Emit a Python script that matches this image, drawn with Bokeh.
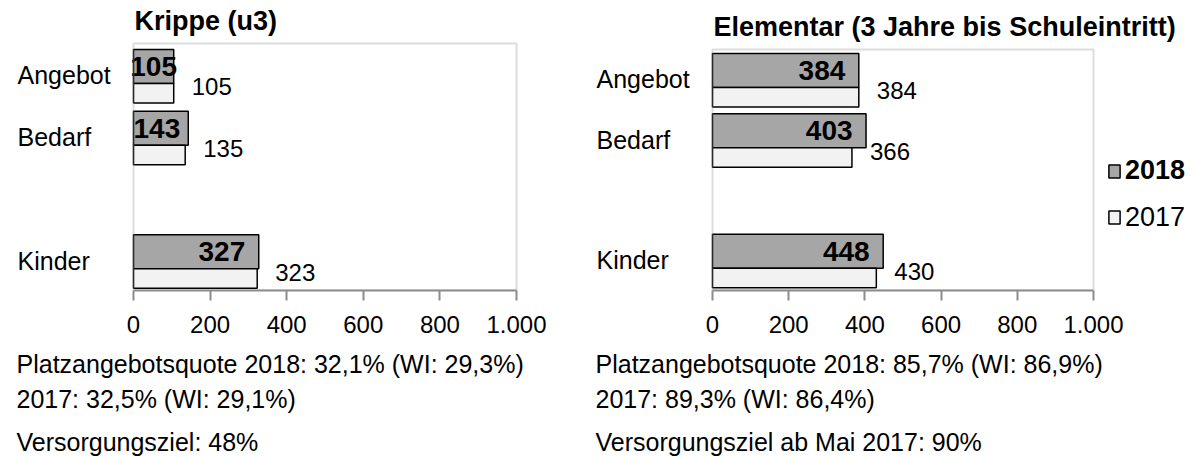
from bokeh.plotting import figure
from bokeh.models import Range1d, FixedTicker, Legend, LegendItem, BoxAnnotation
from bokeh.layouts import row, column
from bokeh.core.properties import value
from bokeh.embed import file_html
from bokeh.resources import INLINE

# ---------------- data ----------------
categories = ["Angebot", "Bedarf", "Kinder"]
krippe_2018 = [105, 143, 327]
krippe_2017 = [105, 135, 323]
elementar_2018 = [384, 403, 448]
elementar_2017 = [384, 366, 430]
x_ticks = [0, 200, 400, 600, 800, 1000]
x_tick_labels = ["0", "200", "400", "600", "800", "1.000"]
years = ["2018", "2017"]
titles = ["Krippe (u3)", "Elementar (3 Jahre bis Schuleintritt)"]
krippe_notes = ["Platzangebotsquote 2018: 32,1% (WI: 29,3%)",
                "2017: 32,5% (WI: 29,1%)",
                "Versorgungsziel: 48%"]
elementar_notes = ["Platzangebotsquote 2018: 85,7% (WI: 86,9%)",
                   "2017: 89,3% (WI: 86,4%)",
                   "Versorgungsziel ab Mai 2017: 90%"]

# ---------------- style / layout (page pixels) ----------------
FONT = "Liberation Sans"
C18 = "#a6a6a6"
C17 = "#f2f2f2"
FRAME = "#8c8c8c"
X_MAX = 1000
N_SLOTS = 4
SLOT_OF = [0, 1, 3]          # an empty slot between Bedarf and Kinder
X0, Y0 = 0, 0                # where the layout starts on the page
SPLIT = 590
RIGHT_END = 1190
BOX_BOTTOM = 290
MAIN_BOTTOM = 340
CANVAS_BOTTOM = 457
H18 = 34.0
H17 = 19.5
NOTE_BASES = [373, 408, 451]
BASE_FIX = 0.37              # em shift so that the text baseline lands on target


def fix(py, size):
    return py - BASE_FIX * size


def base_fig(w, h, xr, yr, bottom=0):
    p = figure(frame_width=w, frame_height=h, min_border_left=0,
               min_border_right=0, min_border_top=0, min_border_bottom=bottom,
               x_range=xr, y_range=yr, y_axis_location=None,
               x_axis_location="below" if bottom else None,
               toolbar_location=None, output_backend="svg")
    p.xgrid.visible = False
    p.ygrid.visible = False
    p.outline_line_color = None
    p.background_fill_color = "white"
    p.border_fill_color = "white"
    return p


def make_main(title, v18, v17, canvas_left, canvas_right, box_left, box_right,
              box_top, bar_pad, legend=False):
    ppx = (box_right - box_left) / X_MAX
    ppu = (BOX_BOTTOM - box_top) / N_SLOTS

    def xd(px):
        return (px - box_left) / ppx

    def yd(py):
        return (BOX_BOTTOM - py) / ppu

    p = base_fig(canvas_right - canvas_left, BOX_BOTTOM - Y0,
                 Range1d(xd(canvas_left), xd(canvas_right)),
                 Range1d(0, yd(Y0)), bottom=MAIN_BOTTOM - BOX_BOTTOM)

    ax = p.xaxis[0]
    ax.ticker = FixedTicker(ticks=x_ticks)
    ax.bounds = (0, X_MAX)
    ax.major_label_overrides = {t: l for t, l in zip(x_ticks, x_tick_labels)}
    ax.axis_line_color = FRAME
    ax.axis_line_width = 2
    ax.major_tick_line_color = FRAME
    ax.major_tick_line_width = 2
    ax.major_tick_in = 0
    ax.major_tick_out = 10
    ax.minor_tick_line_color = None
    ax.major_label_standoff = 15
    ax.major_label_text_font = FONT
    ax.major_label_text_font_size = "24px"
    ax.major_label_text_color = "black"

    # plot-area box
    p.add_layout(BoxAnnotation(left=0, right=X_MAX, bottom=0, top=N_SLOTS,
                               fill_color=None, line_color=FRAME,
                               line_width=2))

    slot_tops = [box_top + s * ppu for s in SLOT_OF]
    y18 = [yd(t + bar_pad + H18 / 2) for t in slot_tops]
    y17 = [yd(t + bar_pad + H18 + H17 / 2) for t in slot_tops]

    r18 = p.hbar(y=y18, left=0, right=v18, height=H18 / ppu,
                 fill_color=C18, line_color="black", line_width=1.5)
    r17 = p.hbar(y=y17, left=0, right=v17, height=H17 / ppu,
                 fill_color=C17, line_color="black", line_width=1.5)

    # category labels (left aligned)
    p.text(x=[xd(box_left - 116)] * len(categories),
           y=[yd(fix(t + bar_pad + 35, 25)) for t in slot_tops],
           text=categories,
           text_font=value(FONT), text_font_size="25px", text_align="left",
           text_baseline="alphabetic", text_color="black")

    # 2018 value labels (bold, inside end)
    lw18 = 3 * 0.556 * 28
    pad_in = 13.5
    xs, als = [], []
    for v in v18:
        bar_px = v * ppx
        if bar_px - pad_in >= lw18:
            xs.append(xd(box_left + bar_px - pad_in)); als.append("right")
        elif bar_px >= lw18:
            xs.append(0); als.append("left")
        else:
            xs.append(v / 2); als.append("center")
    p.text(x=xs, y=[yd(fix(t + bar_pad + H18 / 2 + 10.5, 28)) for t in slot_tops],
           text=[str(v) for v in v18], text_align=als,
           text_font=value(FONT), text_font_size="28px",
           text_font_style="bold", text_baseline="alphabetic",
           text_color="black")

    # 2017 value labels (outside end)
    p.text(x=[xd(box_left + v * ppx + 18) for v in v17],
           y=[yd(fix(t + bar_pad + H18 + H17 / 2 + 2.5, 24)) for t in slot_tops],
           text=[str(v) for v in v17], text_font=value(FONT),
           text_font_size="24px", text_align="left",
           text_baseline="alphabetic", text_color="black")

    # title
    p.text(x=[xd(box_left + 1)], y=[yd(fix(box_top - 13, 27))], text=[title],
           text_font=value(FONT), text_font_size="27px",
           text_font_style="bold", text_align="left",
           text_baseline="alphabetic", text_color="black")

    if legend:
        for yr, r, style, cy in [(years[0], r18, "bold", 171),
                                 (years[1], r17, "normal", 217.5)]:
            h = 30
            lg = Legend(items=[LegendItem(label=yr, renderers=[r])],
                        location=(1107 - canvas_left,
                                  BOX_BOTTOM - cy - h / 2),
                        padding=0, margin=0, spacing=0,
                        glyph_width=14, glyph_height=16, label_standoff=4,
                        label_height=h,
                        label_text_font=FONT, label_text_font_size="27px",
                        label_text_font_style=style,
                        label_text_color="black",
                        border_line_color=None, background_fill_alpha=0)
            p.add_layout(lg, "center")
    return p


def make_notes(notes, canvas_left, canvas_right, x_text):
    q = base_fig(canvas_right - canvas_left, CANVAS_BOTTOM - MAIN_BOTTOM,
                 Range1d(canvas_left, canvas_right),
                 Range1d(CANVAS_BOTTOM, MAIN_BOTTOM))
    q.text(x=[x_text] * len(notes), y=[fix(b, 25) for b in NOTE_BASES],
           text=notes,
           text_font=value(FONT), text_font_size="25px", text_align="left",
           text_baseline="alphabetic", text_color="black")
    return q


left = make_main(titles[0], krippe_2018, krippe_2017, X0, SPLIT,
                 133, 516, 43, 6)
right = make_main(titles[1], elementar_2018, elementar_2017, SPLIT, RIGHT_END,
                  712, 1093, 49, 4, legend=True)
left_notes = make_notes(krippe_notes, X0, SPLIT, 16)
right_notes = make_notes(elementar_notes, SPLIT, RIGHT_END, 595)

layout = column(row(left, right, spacing=0),
                row(left_notes, right_notes, spacing=0), spacing=0)
open("out.html", "w").write(file_html(layout, INLINE))
